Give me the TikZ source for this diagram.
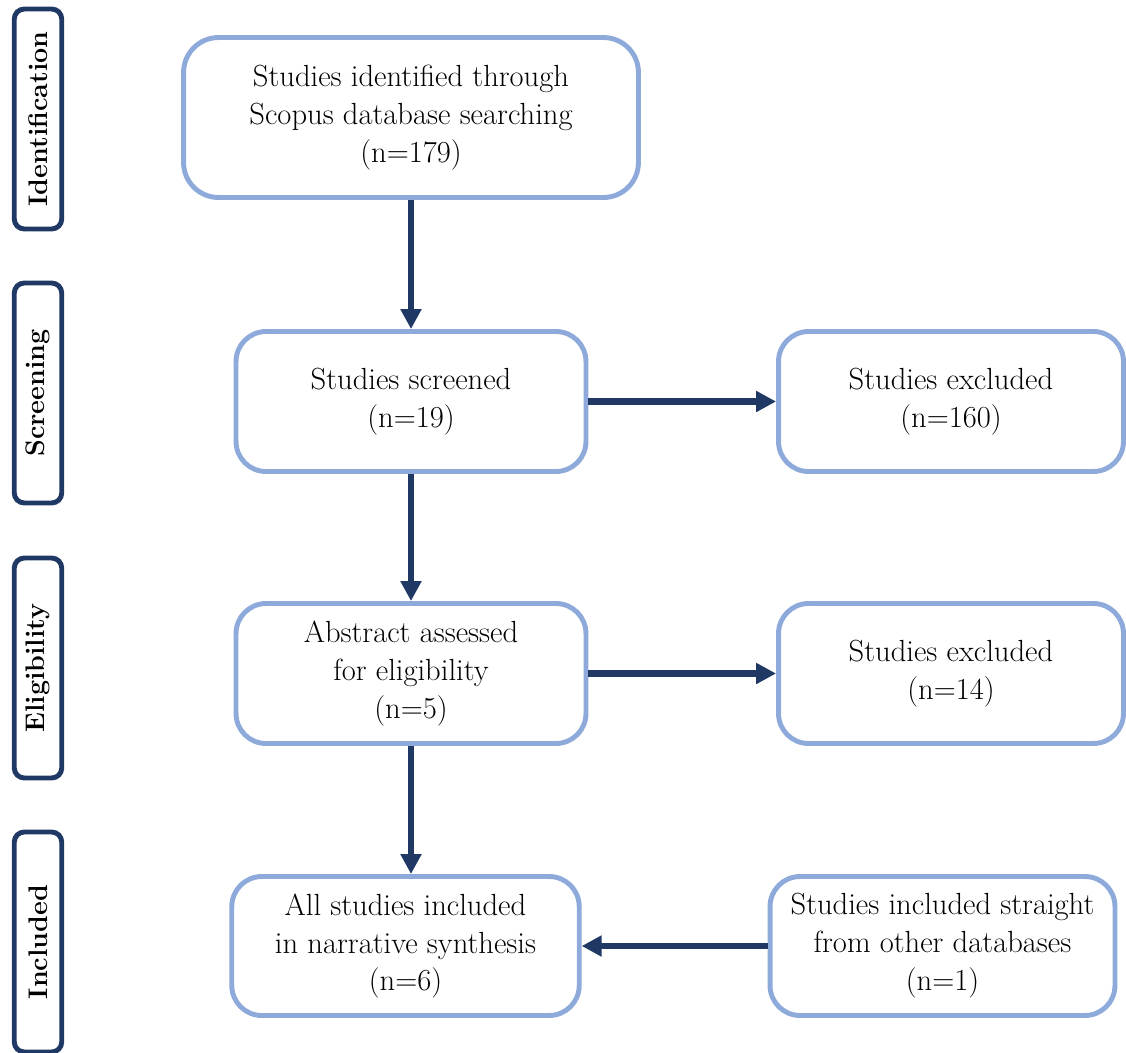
\documentclass[tikz,border=0pt]{standalone}
\usetikzlibrary{arrows.meta}
\definecolor{boxblue}{HTML}{8EAADB}
\definecolor{navy}{HTML}{1F3864}
\begin{document}
\begin{tikzpicture}[x=0.02cm, y=-0.02cm, >={Triangle[length=0.4cm,width=0.4cm]},
	font=\fontsize{17.4}{21.6}\selectfont, line join=round, line cap=round,
	stage/.style={draw=boxblue, line width=2.8pt, rounded corners=0.6cm, align=center, inner sep=2pt},
	phase/.style={draw=navy, line width=2.8pt, rounded corners=0.2cm, minimum width=4.4cm, minimum height=0.95cm, rotate=90, font=\fontsize{15.3}{16}\selectfont\bfseries},
	flow/.style={->, draw=navy, line width=3.6pt, line cap=butt}]
	\useasboundingbox (0,0) rectangle (1126,1052);
	% phases
	\node[phase] (ident) at (38,119) {Identification};
	\node[phase] (screen) at (38,393) {Screening};
	\node[phase] (elig) at (38,668) {Eligibility};
	\node[phase] (incl) at (38,942) {Included};
	% boxes
	\node[stage, minimum width=9.1cm, minimum height=3.2cm, rounded corners=0.7cm] (found) at (411,117.5) {Studies identified through\\Scopus database searching\\(n=179)};
	\node[stage, minimum width=7cm, minimum height=2.8cm] (screened) at (411,401.5) {Studies screened\\(n=19)};
	\node[stage, minimum width=6.9cm, minimum height=2.8cm] (excl1) at (951,401.5) {Studies excluded\\(n=160)};
	\node[stage, minimum width=7cm, minimum height=2.8cm] (abstr) at (411,673.5) {Abstract assessed\\for eligibility\\(n=5)};
	\node[stage, minimum width=6.9cm, minimum height=2.8cm] (excl2) at (951,673.5) {Studies excluded\\(n=14)};
	\node[stage, minimum width=6.95cm, minimum height=2.78cm] (final) at (405.5,946) {All studies included\\in narrative synthesis\\(n=6)};
	\node[stage, minimum width=6.9cm, minimum height=2.78cm] (other) at (942.5,946) {Studies included straight\\from other databases\\(n=1)};
	% arrows
	\draw[flow] (found) -- (screened);
	\draw[flow] (screened) -- (excl1);
	\draw[flow] (screened) -- (abstr);
	\draw[flow] (abstr) -- (excl2);
	\draw[flow] (abstr.south) -- (abstr.south |- final.north);
	\draw[flow] (other) -- (final);
\end{tikzpicture}
\end{document}
